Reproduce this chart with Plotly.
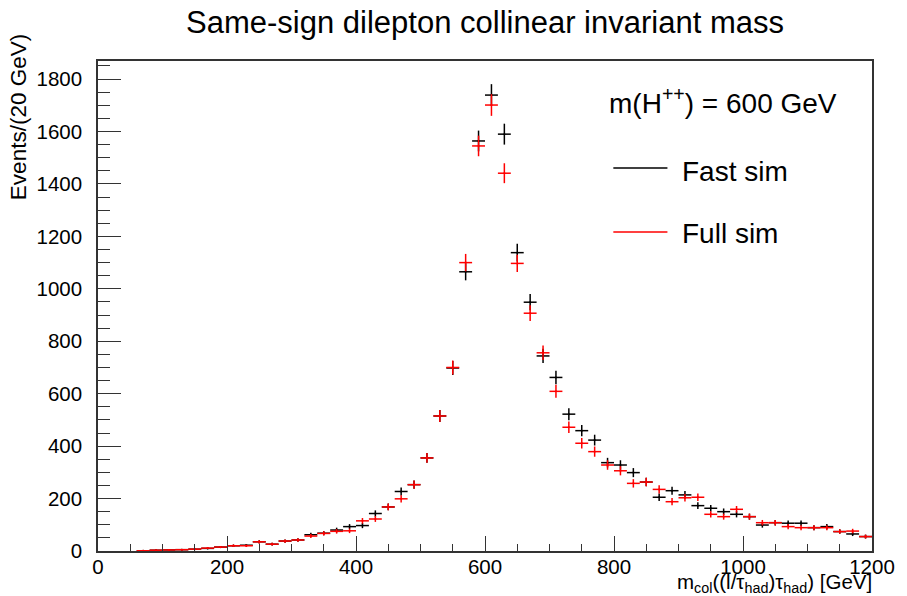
import plotly.graph_objects as go

# Bin centres (20 GeV bins)
bin_centers = [70, 90, 110, 130, 150, 170, 190, 210, 230, 250, 270, 290, 310, 330, 350,
               370, 390, 410, 430, 450, 470, 490, 510, 530, 550, 570, 590, 610, 630, 650,
               670, 690, 710, 730, 750, 770, 790, 810, 830, 850, 870, 890, 910, 930, 950,
               970, 990, 1010, 1030, 1050, 1070, 1090, 1110, 1130, 1150, 1170, 1190]

fast_sim = [1, 3, 4, 5, 7, 10, 15, 20, 22, 35, 26, 38, 42, 62, 68,
            80, 93, 97, 143, 168, 227, 253, 355, 515, 698, 1065, 1564, 1739, 1590, 1138,
            949, 744, 662, 522, 459, 423, 337, 328, 299, 263, 205, 230, 214, 173, 163,
            150, 140, 131, 99, 108, 106, 106, 89, 93, 74, 65, 55]

full_sim = [1, 3, 4, 5, 7, 11, 15, 20, 20, 35, 26, 38, 42, 57, 67,
            75, 77, 115, 122, 168, 199, 253, 355, 515, 700, 1100, 1545, 1701, 1441, 1097,
            907, 756, 609, 472, 411, 379, 328, 306, 258, 263, 235, 188, 203, 205, 140,
            131, 159, 131, 108, 108, 93, 89, 89, 89, 74, 76, 55]

bin_half_width = [10] * len(bin_centers)
fast_err = [v ** 0.5 for v in fast_sim]
full_err = [v ** 0.5 for v in full_sim]

FONT = "Liberation Sans, Arial, Helvetica, sans-serif"

fig = go.Figure()
for name, vals, errs, col in [("Fast sim", fast_sim, fast_err, "black"),
                              ("Full sim", full_sim, full_err, "#ff0000")]:
    fig.add_trace(go.Scatter(
        x=bin_centers, y=vals, mode="markers", name=name,
        marker=dict(size=2, color=col),
        error_x=dict(type="data", array=bin_half_width, width=0, thickness=1.5, color=col),
        error_y=dict(type="data", array=errs, width=0, thickness=1.5, color=col),
        showlegend=False,
    ))

axis_common = dict(
    showline=True, linecolor="#333333", linewidth=1.5, mirror=True,
    ticks="inside", tickcolor="#333333", tickwidth=1,
    showgrid=False, zeroline=False, ticklabeloverflow="allow",
    tickfont=dict(family=FONT, size=20.5, color="black"),
)

fig.update_xaxes(range=[0, 1200], dtick=200, tick0=0, ticklen=15, ticklabelstandoff=-3,
                 minor=dict(dtick=50, ticklen=7, ticks="inside", tickcolor="#333333", showgrid=False),
                 **axis_common)
fig.update_yaxes(range=[0, 1869], dtick=200, tick0=0, ticklen=23, ticklabelstandoff=10,
                 minor=dict(dtick=50, ticklen=12, ticks="inside", tickcolor="#333333", showgrid=False),
                 **axis_common)

fig.update_layout(
    width=907, height=596,
    margin=dict(l=98, r=22, t=61, b=45),
    paper_bgcolor="white", plot_bgcolor="white",
    title=dict(text="Same-sign dilepton collinear invariant mass", x=0.5, xref="paper",
               y=1 - 22 / 596, yanchor="middle",
               font=dict(family=FONT, size=31, color="black")),
    font=dict(family=FONT, color="black"),
)

# axis titles
fig.add_annotation(text="m<sub>col</sub>((l/τ<sub>had</sub>)τ<sub>had</sub>) [GeV]",
                   xref="paper", yref="paper", x=1.0025, y=-0.066, xanchor="right", yanchor="middle",
                   showarrow=False, font=dict(family=FONT, size=20.5, color="black"))
fig.add_annotation(text="Events/(20 GeV)", textangle=-90,
                   xref="paper", yref="paper", x=-0.1017, y=0.886, xanchor="center", yanchor="middle",
                   showarrow=False, font=dict(family=FONT, size=22.5, color="black"))

# legend
fig.add_annotation(text="m(H<sup>++</sup>) = 600 GeV", xref="paper", yref="paper",
                   x=0.657, y=0.918, xanchor="left", yanchor="middle", showarrow=False,
                   font=dict(family=FONT, size=28, color="black"))
for label, col, ty, ly in [("Fast sim", "black", 0.7755, 0.7816), ("Full sim", "#ff0000", 0.647, 0.651)]:
    fig.add_annotation(text=label, xref="paper", yref="paper", x=0.7525, y=ty,
                       xanchor="left", yanchor="middle", showarrow=False,
                       font=dict(family=FONT, size=28, color="black"))
    fig.add_shape(type="line", xref="paper", yref="paper", x0=0.6658, x1=0.7357, y0=ly, y1=ly,
                  line=dict(color=col, width=1.5))

fig.write_html("out.html")
